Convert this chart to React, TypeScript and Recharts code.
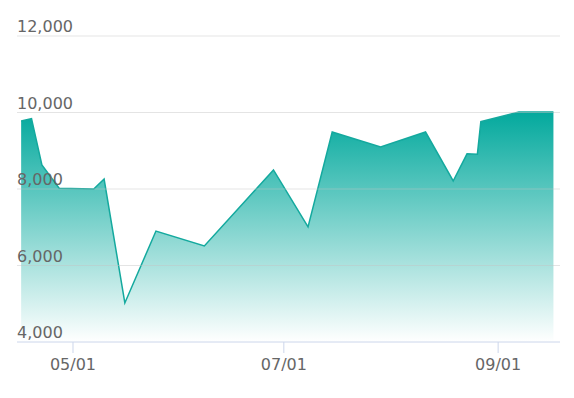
import React from 'react';
import { AreaChart, Area, XAxis, YAxis, ReferenceLine } from 'recharts';

const dates = [
  '2023-04-16', '2023-04-19', '2023-04-22', '2023-04-27', '2023-05-07',
  '2023-05-10', '2023-05-16', '2023-05-25', '2023-06-08', '2023-06-28',
  '2023-07-08', '2023-07-15', '2023-07-29', '2023-08-11', '2023-08-19',
  '2023-08-23', '2023-08-26', '2023-08-27', '2023-09-07', '2023-09-17',
];
const values = [
  9780, 9840, 8630, 8020, 8000,
  8260, 5020, 6900, 6510, 8500,
  7010, 9490, 9100, 9490, 8210,
  8920, 8910, 9760, 10010, 10010,
];
const xTickLabels = ['2023-05-01', '2023-07-01', '2023-09-01'];
const yTicks = [4000, 6000, 8000, 10000, 12000];

const DAY = 86400000;
const ts = (s: string) => {
  const [y, m, d] = s.split('-').map(Number);
  return Date.UTC(y, m - 1, d);
};
const data = dates.map((d, i) => ({ t: ts(d), v: values[i] }));
const xTicks = xTickLabels.map(ts);
const domainStart = ts('2023-05-01') - 16.2 * DAY;
const domainEnd = ts('2023-05-01') + 140.9 * DAY;

const fmtNum = (n: number) => String(n).replace(/\B(?=(\d{3})+(?!\d))/g, ',');
const fmtDate = (t: number) => {
  const d = new Date(t);
  const mm = String(d.getUTCMonth() + 1).padStart(2, '0');
  const dd = String(d.getUTCDate()).padStart(2, '0');
  return `${mm}/${dd}`;
};

const FONT = 'DejaVu Sans';

const makeYLabel = (value: number) => (props: any) => {
  const vb = props.viewBox || {};
  return (
    <text x={vb.x} y={vb.y - 4} fill="#666666" fontSize={16} fontFamily={FONT} textAnchor="start">
      {fmtNum(value)}
    </text>
  );
};

const XTick = (props: any) => {
  const { x, payload } = props;
  return (
    <text x={x} y={370} fill="#666666" fontSize={16} fontFamily={FONT} textAnchor="middle">
      {fmtDate(payload.value)}
    </text>
  );
};

export default function App() {
  return (
    <div style={{ position: 'absolute', left: 0, top: 0, width: 574, height: 398, background: '#fff' }}>
      <AreaChart
        width={574}
        height={398}
        data={data}
        margin={{ top: 36, right: 14, left: 17, bottom: 16 }}
      >
        <defs>
          <linearGradient id="tealFill" x1="0" y1="0" x2="0" y2="1">
            <stop offset="0%" stopColor="#03a99d" stopOpacity={1} />
            <stop offset="100%" stopColor="#03a99d" stopOpacity={0} />
          </linearGradient>
        </defs>
        <XAxis
          dataKey="t"
          type="number"
          scale="time"
          domain={[domainStart, domainEnd]}
          ticks={xTicks}
          tick={<XTick />}
          tickSize={11}
          height={40}
          axisLine={{ stroke: '#ccd6eb', strokeWidth: 1 }}
          tickLine={{ stroke: '#ccd6eb', strokeWidth: 1 }}
          allowDataOverflow
        />
        <YAxis type="number" domain={[4000, 12000]} ticks={yTicks} hide allowDataOverflow />
        <Area
          type="linear"
          dataKey="v"
          stroke="#14a99e"
          strokeWidth={1.5}
          fill="url(#tealFill)"
          fillOpacity={1}
          baseValue={4000}
          isAnimationActive={false}
          dot={false}
          activeDot={false}
        />
        {yTicks.map((g) => (
          <ReferenceLine
            key={g}
            y={g}
            stroke={g === 4000 ? 'none' : '#c4c4c4'}
            strokeOpacity={0.45}
            strokeWidth={1}
            label={makeYLabel(g)}
          />
        ))}
      </AreaChart>
    </div>
  );
}
